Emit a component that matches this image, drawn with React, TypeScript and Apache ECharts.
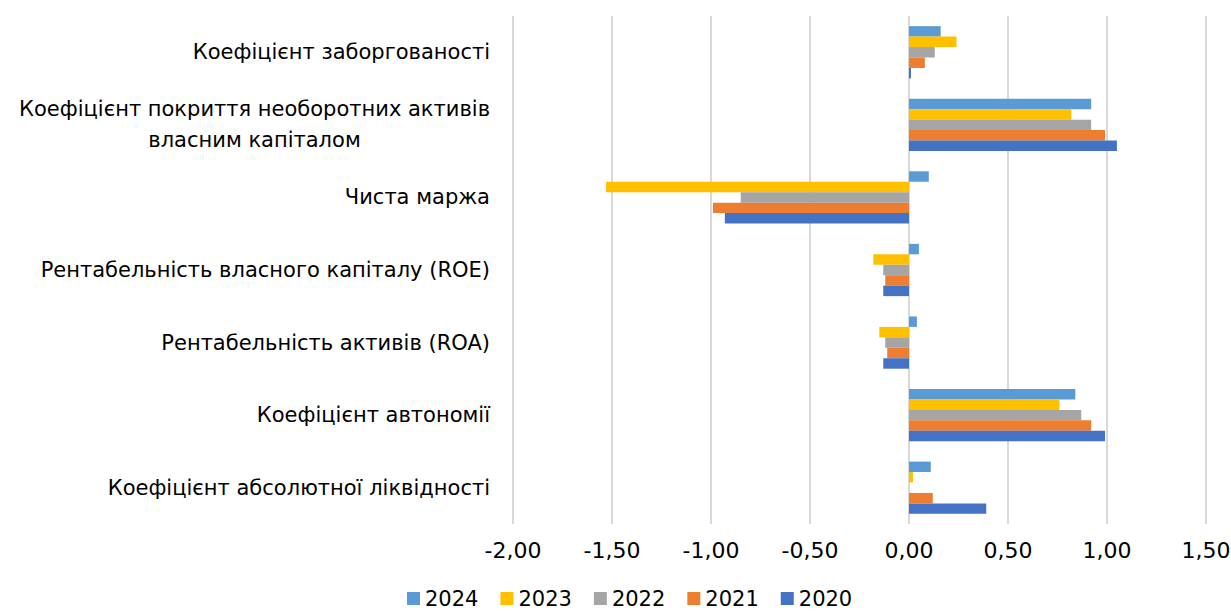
import React, { useEffect, useRef } from "react";
import * as echarts from "echarts";

const categories = [
  "Коефіцієнт абсолютної ліквідності",
  "Коефіцієнт автономії",
  "Рентабельність активів (ROA)",
  "Рентабельність власного капіталу (ROE)",
  "Чиста маржа",
  "Коефіцієнт покриття необоротних активів\nвласним капіталом",
  "Коефіцієнт заборгованості",
];

const years = ["2024", "2023", "2022", "2021", "2020"];

const values2024 = [0.11, 0.84, 0.04, 0.05, 0.1, 0.92, 0.16];
const values2023 = [0.02, 0.76, -0.15, -0.18, -1.53, 0.82, 0.24];
const values2022 = [0.0, 0.87, -0.12, -0.13, -0.85, 0.92, 0.13];
const values2021 = [0.12, 0.92, -0.11, -0.12, -0.99, 0.99, 0.08];
const values2020 = [0.39, 0.99, -0.13, -0.13, -0.93, 1.05, 0.01];

const seriesValues = [values2024, values2023, values2022, values2021, values2020];
const colors = ["#5B9BD5", "#FFC000", "#A5A5A5", "#ED7D31", "#4472C4"];

const FONT = "DejaVu Sans";

export default function App() {
  const ref = useRef<HTMLDivElement>(null);
  useEffect(() => {
    if (!ref.current) return;
    const chart = echarts.init(ref.current, null, { renderer: "svg" });
    chart.setOption({
      animation: false,
      backgroundColor: "#ffffff",
      textStyle: { fontFamily: FONT },
      grid: {
        left: 513,
        right: 25,
        top: 16,
        bottom: 92,
        containLabel: false,
        outerBoundsMode: "none",
      },
      legend: {
        data: years,
        top: 588,
        left: 407,
        padding: 0,
        itemWidth: 13,
        itemHeight: 13,
        itemGap: 22,
        icon: "rect",
        textStyle: { fontFamily: FONT, fontSize: 21, color: "#000" },
      },
      xAxis: {
        type: "value",
        min: -2,
        max: 1.5,
        interval: 0.5,
        axisLine: { show: false },
        axisTick: { show: false },
        splitLine: { show: true, lineStyle: { color: "#d9d9d9", width: 2 } },
        axisLabel: {
          fontFamily: FONT,
          fontSize: 22,
          color: "#000",
          margin: 15,
          formatter: (v: number) => v.toFixed(2).replace(".", ","),
        },
      },
      yAxis: {
        type: "category",
        data: categories,
        axisLine: { show: false },
        axisTick: { show: false },
        axisLabel: {
          fontFamily: FONT,
          fontSize: 21,
          color: "#000",
          margin: 23,
          lineHeight: 31,
          formatter: (v: string) => {
            if (v.indexOf("\n") >= 0) {
              const parts = v.split("\n");
              return "{a|" + parts[0] + "}\n{b|" + parts[1] + "}";
            }
            return v;
          },
          rich: {
            a: { fontFamily: FONT, fontSize: 21, color: "#000", lineHeight: 31, align: "center" },
            b: { fontFamily: FONT, fontSize: 21, color: "#000", lineHeight: 31, align: "center" },
          },
        },
      },
      series: years.map((y, i) => ({
        name: y,
        type: "bar",
        data: seriesValues[i],
        barGap: "0%",
        barCategoryGap: "28%",
        itemStyle: { color: colors[i] },
      })),
    });
    return () => chart.dispose();
  }, []);
  return (
    <div
      ref={ref}
      style={{ position: "fixed", left: 0, top: 0, width: 1231, height: 616 }}
    />
  );
}
